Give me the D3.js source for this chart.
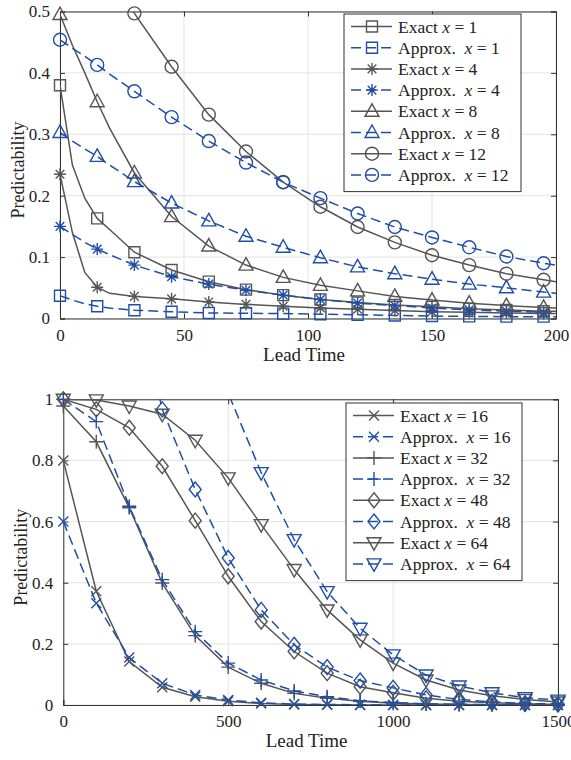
<!DOCTYPE html>
<html>
<head>
<meta charset="utf-8">
<script src="https://cdn.jsdelivr.net/npm/d3@7"></script>
<style>
  body { margin: 0; background: #fff; }
  svg text, svg tspan { font-family: "Liberation Serif", "Times New Roman", serif !important; fill: #222; }
</style>
</head>
<body>
<div id="chart"></div>
<script>
// top panel data (lead times, markers every 15)
var topLead = [0, 5, 10, 15, 20, 30, 45, 60, 75, 90, 105, 120, 135, 150, 165, 180, 195, 200];
var exact1  = [0.38, 0.25, 0.196, 0.163, 0.145, 0.108, 0.079, 0.060, 0.047, 0.038, 0.031, 0.026, 0.022, 0.019, 0.016, 0.014, 0.012, 0.012];
var approx1 = [0.037, 0.030, 0.024, 0.020, 0.017, 0.0135, 0.011, 0.009, 0.0085, 0.008, 0.007, 0.006, 0.005, 0.004, 0.0035, 0.003, 0.003, 0.003];
var exact4  = [0.235, 0.14, 0.075, 0.051, 0.041, 0.036, 0.032, 0.027, 0.023, 0.020, 0.017, 0.015, 0.013, 0.011, 0.010, 0.009, 0.008, 0.008];
var approx4 = [0.15, 0.137, 0.124, 0.113, 0.104, 0.087, 0.068, 0.056, 0.046, 0.038, 0.031, 0.025, 0.021, 0.017, 0.014, 0.012, 0.010, 0.009];
var exact8  = [0.495, 0.445, 0.40, 0.353, 0.31, 0.237, 0.166, 0.118, 0.087, 0.067, 0.054, 0.045, 0.036, 0.030, 0.025, 0.021, 0.018, 0.017];
var approx8 = [0.303, 0.289, 0.276, 0.264, 0.250, 0.223, 0.188, 0.159, 0.134, 0.116, 0.099, 0.084, 0.073, 0.064, 0.056, 0.050, 0.043, 0.041];
var exact12 = [0.95, 0.85, 0.76, 0.68, 0.61, 0.497, 0.410, 0.332, 0.272, 0.222, 0.182, 0.149, 0.124, 0.103, 0.087, 0.073, 0.063, 0.060];
var approx12 = [0.454, 0.440, 0.427, 0.413, 0.398, 0.370, 0.328, 0.289, 0.254, 0.222, 0.196, 0.171, 0.149, 0.132, 0.116, 0.101, 0.090, 0.087];

// bottom panel data (markers every 100)
var botLead = [0, 100, 200, 300, 400, 500, 600, 700, 800, 900, 1000, 1100, 1200, 1300, 1400, 1500];
var exact16  = [0.80, 0.372, 0.142, 0.058, 0.027, 0.012, 0.005, 0.002, 0.001, 0, 0, 0, 0, 0, 0, 0];
var approx16 = [0.60, 0.333, 0.155, 0.071, 0.033, 0.016, 0.007, 0.003, 0.0015, 0.001, 0, 0, 0, 0, 0, 0];
var exact32  = [0.978, 0.861, 0.645, 0.399, 0.227, 0.124, 0.071, 0.038, 0.022, 0.012, 0.006, 0.003, 0.002, 0.001, 0, 0];
var approx32 = [1.0, 0.927, 0.650, 0.410, 0.240, 0.137, 0.082, 0.046, 0.027, 0.014, 0.008, 0.004, 0.002, 0.001, 0.001, 0];
var exact48  = [1.0, 0.967, 0.907, 0.781, 0.603, 0.421, 0.273, 0.175, 0.104, 0.060, 0.040, 0.022, 0.012, 0.007, 0.004, 0.002];
var approx48 = [2.2, 1.9, 1.44, 0.967, 0.705, 0.481, 0.311, 0.197, 0.124, 0.080, 0.056, 0.033, 0.018, 0.010, 0.005, 0.003];
var exact64  = [1.0, 0.998, 0.978, 0.951, 0.866, 0.743, 0.590, 0.443, 0.311, 0.213, 0.137, 0.082, 0.049, 0.030, 0.018, 0.010];
var approx64 = [3.0, 2.6, 2.2, 1.8, 1.35, 1.02, 0.76, 0.541, 0.371, 0.251, 0.164, 0.098, 0.062, 0.040, 0.024, 0.016];

var grey = "#555555";
var blue = "#1f4ea8";
var serif = '"Liberation Serif", "Times New Roman", serif';

var svg = d3.select("#chart").append("svg")
  .attr("width", 571)
  .attr("height", 760);

function markerPath(type) {
  if (type == "square") return "M-5.5,-5.5h11v11h-11Z";
  if (type == "circle") return "M6.5,0A6.5,6.5 0 1,1 -6.5,0A6.5,6.5 0 1,1 6.5,0Z";
  if (type == "tri") return "M0,-7.5L7,5L-7,5Z";
  if (type == "trid") return "M0,7.5L7,-5L-7,-5Z";
  if (type == "diamond") return "M0,-7.5L6,0L0,7.5L-6,0Z";
  if (type == "star") return "M-6,0H6M0,-6V6M-4.3,-4.3L4.3,4.3M-4.3,4.3L4.3,-4.3";
  if (type == "plus") return "M-7,0H7M0,-7V7";
  if (type == "cross") return "M-5,-5L5,5M-5,5L5,-5";
}

function drawPanel(opt) {
  var g = svg.append("g");
  var x = d3.scaleLinear().domain(opt.xDomain).range([opt.left, opt.right]);
  var y = d3.scaleLinear().domain(opt.yDomain).range([opt.bottom, opt.top]);

  // grid
  g.append("g").selectAll("line.gx").data(opt.xTicks).enter().append("line")
    .attr("x1", d => x(d)).attr("x2", d => x(d))
    .attr("y1", opt.top).attr("y2", opt.bottom)
    .attr("stroke", "#e3e3e3").attr("stroke-width", 1);
  g.append("g").selectAll("line.gy").data(opt.yTicks).enter().append("line")
    .attr("y1", d => y(d)).attr("y2", d => y(d))
    .attr("x1", opt.left).attr("x2", opt.right)
    .attr("stroke", "#e3e3e3").attr("stroke-width", 1);

  // axes, ticks inward
  var bottomAxis = d3.axisBottom(x).tickValues(opt.xTicks).tickSize(-5).tickFormat(d3.format("")).tickPadding(10);
  var leftAxis = d3.axisLeft(y).tickValues(opt.yTicks).tickSize(-5).tickFormat(opt.yFormat).tickPadding(10);
  var topAxis = d3.axisTop(x).tickValues(opt.xTicks).tickSize(-5).tickFormat("");
  var rightAxis = d3.axisRight(y).tickValues(opt.yTicks).tickSize(-5).tickFormat("");

  var ax = [
    g.append("g").attr("transform", `translate(0,${opt.bottom})`).call(bottomAxis),
    g.append("g").attr("transform", `translate(${opt.left},0)`).call(leftAxis),
    g.append("g").attr("transform", `translate(0,${opt.top})`).call(topAxis),
    g.append("g").attr("transform", `translate(${opt.right},0)`).call(rightAxis)
  ];
  ax.forEach(a => {
    a.attr("font-family", serif).attr("font-size", 17);
    a.select(".domain").attr("stroke", "#333").attr("stroke-width", 1);
    a.selectAll(".tick line").attr("stroke", "#333");
    a.selectAll("text").attr("fill", "#222");
  });

  // axis labels
  g.append("text")
    .attr("x", (opt.left + opt.right) / 2 - 4)
    .attr("y", opt.bottom + 42)
    .attr("text-anchor", "middle")
    .attr("font-family", serif)
    .style("font-size", "19px")
    .text("Lead Time");
  g.append("text")
    .attr("transform", `translate(${opt.ylabX},${(opt.top + opt.bottom) / 2 + 5}) rotate(-90)`)
    .attr("text-anchor", "middle")
    .attr("font-family", serif)
    .style("font-size", "18px")
    .text("Predictability");

  // clip for lines
  var clipId = "clip" + opt.id;
  svg.append("clipPath").attr("id", clipId).append("rect")
    .attr("x", opt.left).attr("y", opt.top)
    .attr("width", opt.right - opt.left).attr("height", opt.bottom - opt.top);

  var line = d3.line().x(d => x(d[0])).y(d => y(d[1]));
  var ymax = opt.yDomain[1] + 0.005;

  opt.series.forEach(s => {
    var pts = opt.lead.map((t, i) => [t, s.values[i]]);
    g.append("path")
      .datum(pts)
      .attr("clip-path", `url(#${clipId})`)
      .attr("fill", "none")
      .attr("stroke", s.color)
      .attr("stroke-width", 1.5)
      .attr("stroke-dasharray", s.dashed ? "10,5" : null)
      .attr("d", line);
    g.append("g").selectAll("path")
      .data(pts.filter(p => opt.markAt(p[0]) && p[1] <= ymax))
      .enter().append("path")
      .attr("transform", d => `translate(${x(d[0])},${y(d[1])})`)
      .attr("d", markerPath(s.marker))
      .attr("fill", "none")
      .attr("stroke", s.color)
      .attr("stroke-width", 1.4);
  });

  // legend
  var lg = g.append("g");
  var rowH = 21.2;
  lg.append("rect")
    .attr("x", opt.legX).attr("y", opt.legY)
    .attr("width", opt.legW).attr("height", rowH * opt.series.length + 8)
    .attr("fill", "#fff").attr("stroke", "#333").attr("stroke-width", 1);
  opt.series.forEach((s, i) => {
    var cy = opt.legY + 12.5 + i * rowH;
    lg.append("line")
      .attr("x1", opt.legX + 7).attr("x2", opt.legX + 48)
      .attr("y1", cy).attr("y2", cy)
      .attr("stroke", s.color).attr("stroke-width", 1.5)
      .attr("stroke-dasharray", s.dashed ? "10,5" : null);
    lg.append("path")
      .attr("transform", `translate(${opt.legX + 28},${cy})`)
      .attr("d", markerPath(s.marker))
      .attr("fill", "none").attr("stroke", s.color).attr("stroke-width", 1.4);
    var t = lg.append("text")
      .attr("x", opt.legX + 54).attr("y", cy + 6)
      .attr("font-family", serif)
      .style("font-size", "17.5px")
      .attr("xml:space", "preserve");
    t.append("tspan").text(s.dashed ? "Approx.  " : "Exact ");
    t.append("tspan").style("font-style", "italic").text("x");
    t.append("tspan").text(" = " + s.n);
  });
}

drawPanel({
  id: "top",
  left: 60, right: 556, top: 11.5, bottom: 318.5,
  xDomain: [0, 200], yDomain: [0, 0.5],
  xTicks: [0, 50, 100, 150, 200], yTicks: [0, 0.1, 0.2, 0.3, 0.4, 0.5],
  yFormat: d => d == 0 ? "0" : d3.format(".1f")(d),
  ylabX: 24,
  lead: topLead,
  markAt: t => t % 15 == 0,
  legX: 344, legY: 14, legW: 177,
  series: [
    { n: 1, values: exact1, color: grey, dashed: false, marker: "square" },
    { n: 1, values: approx1, color: blue, dashed: true, marker: "square" },
    { n: 4, values: exact4, color: grey, dashed: false, marker: "star" },
    { n: 4, values: approx4, color: blue, dashed: true, marker: "star" },
    { n: 8, values: exact8, color: grey, dashed: false, marker: "tri" },
    { n: 8, values: approx8, color: blue, dashed: true, marker: "tri" },
    { n: 12, values: exact12, color: grey, dashed: false, marker: "circle" },
    { n: 12, values: approx12, color: blue, dashed: true, marker: "circle" }
  ]
});

drawPanel({
  id: "bot",
  left: 63.3, right: 558, top: 399.3, bottom: 705,
  xDomain: [0, 1500], yDomain: [0, 1],
  xTicks: [0, 500, 1000, 1500], yTicks: [0, 0.2, 0.4, 0.6, 0.8, 1],
  yFormat: d => (d == 0 || d == 1) ? String(d) : d3.format(".1f")(d),
  ylabX: 27,
  lead: botLead,
  markAt: t => true,
  legX: 346, legY: 403, legW: 176,
  series: [
    { n: 16, values: exact16, color: grey, dashed: false, marker: "cross" },
    { n: 16, values: approx16, color: blue, dashed: true, marker: "cross" },
    { n: 32, values: exact32, color: grey, dashed: false, marker: "plus" },
    { n: 32, values: approx32, color: blue, dashed: true, marker: "plus" },
    { n: 48, values: exact48, color: grey, dashed: false, marker: "diamond" },
    { n: 48, values: approx48, color: blue, dashed: true, marker: "diamond" },
    { n: 64, values: exact64, color: grey, dashed: false, marker: "trid" },
    { n: 64, values: approx64, color: blue, dashed: true, marker: "trid" }
  ]
});
</script>
</body>
</html>
